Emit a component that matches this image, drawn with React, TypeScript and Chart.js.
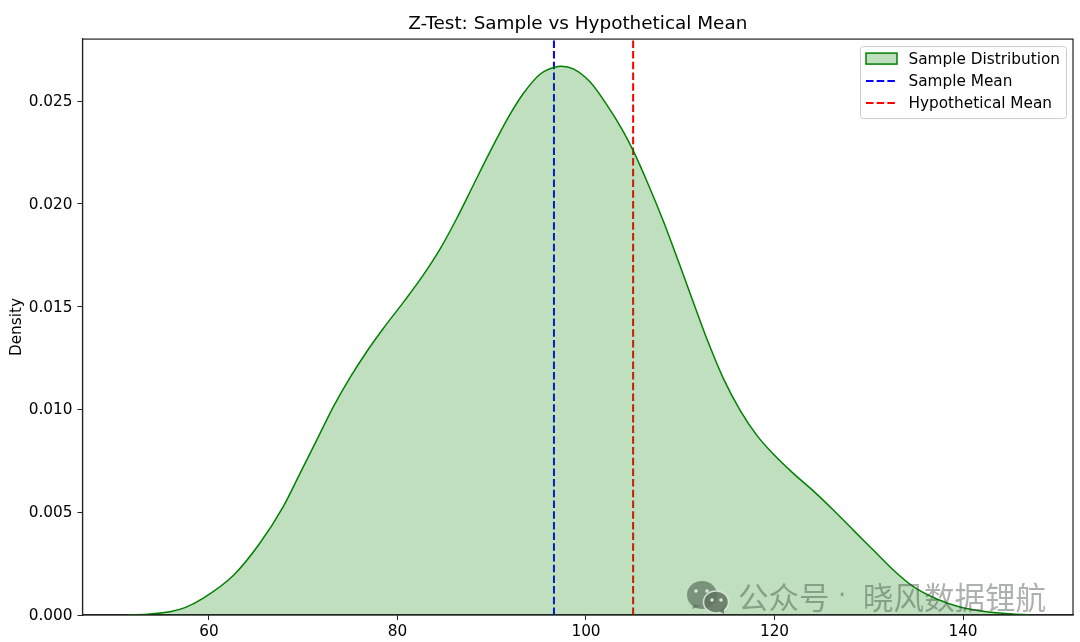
import React, { useEffect, useRef } from "react";
import { Chart, registerables } from "chart.js";

Chart.register(...registerables);

const kdeX = [51.4, 53.74, 55.86, 57.45, 59.4, 62.58, 65.41, 67.88, 69.66, 71.43, 73.19, 74.96, 76.73, 78.49, 80.8, 82.6, 84.51, 86.28, 88.04, 89.81, 91.59, 93.35, 95.12, 96.6, 97.42, 98.65, 100.42, 102.2, 103.96, 105.02, 106.44, 108.2, 109.97, 111.56, 112.8, 114.57, 116.34, 118.11, 119.87, 121.99, 124.11, 126.24, 128.36, 130.48, 132.6, 134.73, 137.21, 139.68, 142.33, 144.99, 147.11];
const kdeY = [0, 0.00005, 0.00016, 0.00036, 0.00082, 0.00192, 0.0035, 0.00527, 0.00689, 0.00851, 0.01013, 0.01155, 0.01281, 0.01394, 0.01532, 0.01645, 0.0178, 0.01929, 0.02091, 0.02253, 0.02408, 0.02537, 0.02631, 0.02664, 0.0267, 0.02657, 0.02594, 0.02483, 0.02352, 0.02258, 0.02113, 0.01917, 0.017, 0.015, 0.01346, 0.01151, 0.00997, 0.00875, 0.00783, 0.00689, 0.00604, 0.00511, 0.00413, 0.00316, 0.00219, 0.00138, 0.00078, 0.00039, 0.00017, 0.00006, 0];
const sampleMean = 96.6;
const hypotheticalMean = 105;
const xLimits = [46.58, 151.67];
const yLimits = [0, 0.02802];
const titleText = "Z-Test: Sample vs Hypothetical Mean";
const yAxisTitle = "Density";
const watermarkLeft = "公众号";
const watermarkDot = "·";
const watermarkRight = "晓风数据锂航";
const FONT = "'DejaVu Sans'";

const framePlugin = {
  id: "frame",
  afterDatasetsDraw(chart: any) {
    const { ctx, chartArea: a } = chart;
    ctx.save();
    ctx.strokeStyle = "#222";
    ctx.lineWidth = 1.2;
    ctx.strokeRect(a.left, a.top, a.right - a.left, a.bottom - a.top);
    ctx.restore();
  },
};

const legendPlugin = {
  id: "boxLegend",
  afterDraw(chart: any) {
    const { ctx, chartArea: a } = chart;
    const w = 206, h = 72;
    const x = a.right - w - 7, y = a.top + 7;
    ctx.save();
    ctx.fillStyle = "rgba(255,255,255,0.8)";
    ctx.strokeStyle = "#ccc";
    ctx.lineWidth = 1;
    ctx.beginPath();
    ctx.roundRect(x + 0.5, y + 0.5, w, h, 3);
    ctx.fill();
    ctx.stroke();
    ctx.font = `15.3px ${FONT}`;
    ctx.textBaseline = "middle";
    ctx.textAlign = "left";
    chart.data.datasets.forEach((d: any, i: number) => {
      const ry = y + 13 + i * 22;
      if (i === 0) {
        ctx.fillStyle = d.backgroundColor;
        ctx.fillRect(x + 6, ry - 6, 31, 11);
        ctx.strokeStyle = d.borderColor;
        ctx.lineWidth = 1.5;
        ctx.strokeRect(x + 6, ry - 6, 31, 11);
      } else {
        ctx.strokeStyle = d.borderColor;
        ctx.lineWidth = 2;
        ctx.setLineDash(d.borderDash);
        ctx.beginPath();
        ctx.moveTo(x + 6, ry);
        ctx.lineTo(x + 37, ry);
        ctx.stroke();
        ctx.setLineDash([]);
      }
      ctx.fillStyle = "#000";
      ctx.fillText(d.label, x + 48.5, ry + 1);
    });
    ctx.restore();
  },
};

const watermarkPlugin = {
  id: "watermark",
  afterDraw(chart: any) {
    const { ctx } = chart;
    ctx.save();
    ctx.fillStyle = "rgba(95,115,95,0.72)";
    ctx.beginPath();
    ctx.ellipse(702, 595, 15, 14, 0, 0, Math.PI * 2);
    ctx.fill();
    ctx.beginPath();
    ctx.moveTo(694, 604);
    ctx.lineTo(692, 609);
    ctx.lineTo(701, 606);
    ctx.fill();
    ctx.strokeStyle = "rgba(225,235,225,0.9)";
    ctx.fillStyle = "rgba(95,115,95,0.85)";
    ctx.lineWidth = 1.5;
    ctx.beginPath();
    ctx.ellipse(716, 602, 12.5, 11, 0, 0, Math.PI * 2);
    ctx.fill();
    ctx.stroke();
    ctx.beginPath();
    ctx.moveTo(719, 611);
    ctx.lineTo(724, 614);
    ctx.lineTo(724, 608);
    ctx.fill();
    ctx.fillStyle = "rgba(225,235,225,0.95)";
    [[696, 591], [707, 591], [712, 600], [721, 600]].forEach(([px, py]) => {
      ctx.beginPath();
      ctx.arc(px, py, 1.8, 0, Math.PI * 2);
      ctx.fill();
    });
    ctx.fillStyle = "rgba(60,70,60,0.42)";
    ctx.font = "30.5px 'Noto Sans CJK SC'";
    ctx.textBaseline = "middle";
    ctx.textAlign = "left";
    ctx.fillText(watermarkLeft, 738, 597);
    ctx.fillText(watermarkRight, 863, 597);
    ctx.font = `26px ${FONT}`;
    ctx.fillText(watermarkDot, 838, 597);
    ctx.restore();
  },
};

export default function App() {
  const ref = useRef<HTMLCanvasElement | null>(null);
  useEffect(() => {
    const chart = new Chart(ref.current as HTMLCanvasElement, {
      type: "line",
      data: {
        datasets: [
          {
            label: "Sample Distribution",
            data: kdeX.map((x, i) => ({ x, y: kdeY[i] })),
            borderColor: "#008000",
            backgroundColor: "rgba(0,128,0,0.25)",
            borderWidth: 1.5,
            fill: "origin",
            pointRadius: 0,
            cubicInterpolationMode: "monotone",
          },
          {
            label: "Sample Mean",
            data: yLimits.map((y) => ({ x: sampleMean, y })),
            borderColor: "#0000ff",
            borderWidth: 2,
            borderDash: [7.5, 3.2],
            pointRadius: 0,
            fill: false,
          },
          {
            label: "Hypothetical Mean",
            data: yLimits.map((y) => ({ x: hypotheticalMean, y })),
            borderColor: "#ff0000",
            borderWidth: 2,
            borderDash: [7.5, 3.2],
            pointRadius: 0,
            fill: false,
          },
        ],
      } as any,
      options: {
        responsive: false,
        animation: false,
        devicePixelRatio: 1,
        layout: { padding: { left: 0, right: 7, top: 0, bottom: 0 } },
        plugins: {
          legend: { display: false },
          tooltip: { enabled: false },
          title: {
            display: true,
            fullSize: false,
            text: titleText,
            color: "#000",
            font: { family: FONT, size: 18.4, weight: "normal" },
            padding: { top: 13, bottom: 4 },
          },
        },
        scales: {
          x: {
            type: "linear",
            min: xLimits[0],
            max: xLimits[1],
            afterFit: (s: any) => { s.height = 27; },
            border: { color: "#222", width: 1.2 },
            grid: { drawOnChartArea: false, drawTicks: true, tickLength: 5, tickColor: "#222" },
            ticks: { stepSize: 20, includeBounds: false, maxRotation: 0, color: "#000", padding: 3, font: { family: FONT, size: 15.3 } },
          },
          y: {
            type: "linear",
            min: yLimits[0],
            max: yLimits[1],
            afterFit: (s: any) => { s.width = 82.5; },
            border: { color: "#222", width: 1.2 },
            title: { display: true, text: yAxisTitle, color: "#000", padding: { top: 8, bottom: 0 }, font: { family: FONT, size: 15.3 } },
            grid: { drawOnChartArea: false, drawTicks: true, tickLength: 5, tickColor: "#222" },
            ticks: { stepSize: 0.005, includeBounds: false, color: "#000", padding: 5, labelOffset: 1, font: { family: FONT, size: 15.3 }, callback: (v: any) => Number(v).toFixed(3) },
          },
        },
      } as any,
      plugins: [framePlugin, legendPlugin, watermarkPlugin],
    });
    return () => chart.destroy();
  }, []);
  return (
    <div style={{ position: "fixed", left: 0, top: 0, width: 1080, height: 642, background: "#fff" }}>
      <canvas ref={ref} width={1080} height={642} style={{ display: "block", width: 1080, height: 642 }} />
    </div>
  );
}
